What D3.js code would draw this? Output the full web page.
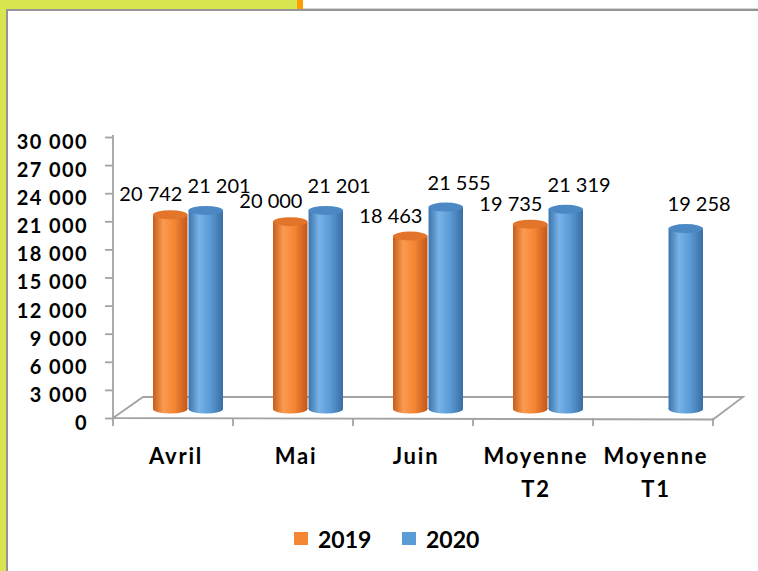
<!DOCTYPE html>
<meta charset="utf-8">
<html>
  <head>
    <style>
      body { margin: 0; background: #ffffff; }
      #chart text { font-family: Lato, "Open Sans", sans-serif; fill: #000; }
    </style>
    <script src="https://d3js.org/d3.v7.min.js"></script>
  </head>
  <body>
<div id="chart"></div>

<script>

// data
var categories = ["Avril", "Mai", "Juin", "Moyenne\nT2", "Moyenne\nT1"];
var seriesNames = ["2019", "2020"];
var values2019 = [20742, 20000, 18463, 19735, null];
var values2020 = [21201, 21201, 21555, 21319, 19258];
var yTicks = [0, 3000, 6000, 9000, 12000, 15000, 18000, 21000, 24000, 27000, 30000];

var W = 758, H = 571;
var depth = {x: 30, y: -21};      // floor depth of the 3d plot
var barShift = {x: 15, y: -9};    // bars stand in the middle of the floor

var svg = d3.select("#chart")
  .append("svg")
  .attr("width", W)
  .attr("height", H);

// ---- slide frame ----
svg.append("rect").attr("x", 0).attr("y", 0).attr("width", 6).attr("height", H).attr("fill", "#d9e54e");
svg.append("rect").attr("x", 0).attr("y", 0).attr("width", 297).attr("height", 9).attr("fill", "#d9e54e");
svg.append("rect").attr("x", 297).attr("y", 0).attr("width", 6).attr("height", 9).attr("fill", "#ff9c00");
svg.append("line").attr("x1", 303).attr("x2", W).attr("y1", 8.5).attr("y2", 8.5).attr("stroke", "#d8d8d8").attr("stroke-width", 1);
svg.append("line").attr("x1", 6).attr("x2", W).attr("y1", 10).attr("y2", 10).attr("stroke", "#959595").attr("stroke-width", 2);
svg.append("line").attr("x1", 7).attr("x2", 7).attr("y1", 9).attr("y2", H).attr("stroke", "#959595").attr("stroke-width", 2);

// ---- gradients for cylinders ----
var defs = svg.append("defs");
var palette = {
  "2019": {stops: ["#c65d19", "#fb9a50", "#f58634", "#c2581a"], top: "#e2752a"},
  "2020": {stops: ["#3c74ac", "#78b2e8", "#5b9bd6", "#3a6ea2"], top: "#4c88c3"}
};
seriesNames.forEach(function(s) {
  var g = defs.append("linearGradient").attr("id", "grad" + s)
    .attr("x1", "0%").attr("x2", "100%").attr("y1", "0%").attr("y2", "0%");
  [0, 30, 62, 100].forEach(function(o, i) {
    g.append("stop").attr("offset", o + "%").attr("stop-color", palette[s].stops[i]);
  });
});

// ---- scales ----
var x = d3.scaleBand()
  .domain(categories)
  .range([113, 713]);

var x1 = d3.scaleBand()
  .domain(seriesNames)
  .range([25, 95])
  .paddingInner(0.03);

var y = d3.scaleLinear()
  .domain([0, 30000])
  .range([418, 137]);

var fmt = d3.formatLocale({decimal: ",", thousands: " ", grouping: [3], currency: ["", ""]}).format(",");

// ---- floor ----
var x0 = x.range()[0], xN = x.range()[1], yF = y(0);
var floor = svg.append("g").attr("fill", "none").attr("stroke", "#a3a3a3").attr("stroke-width", 1.8);
floor.append("path")
  .attr("d", d3.line()([[x0, yF], [x0 + depth.x, yF + depth.y], [xN + depth.x, yF + depth.y], [xN, yF + 1.5], [x0, yF]]));

// category ticks on the floor front edge
svg.append("g").selectAll("line")
  .data(d3.range(categories.length + 1))
  .enter().append("line")
  .attr("x1", function(i) { return x0 + i * x.step(); })
  .attr("x2", function(i) { return x0 + i * x.step(); })
  .attr("y1", yF)
  .attr("y2", yF + 8)
  .attr("stroke", "#a3a3a3")
  .attr("stroke-width", 1.8);

// ---- y axis ----
var yAxis = svg.append("g")
  .attr("transform", "translate(" + x0 + ",0)")
  .call(d3.axisLeft(y).tickValues(yTicks).tickSize(8).tickPadding(17).tickFormat(fmt));
yAxis.select(".domain").attr("stroke", "#a3a3a3").attr("stroke-width", 1.8).attr("d", "M0," + (y(30000) - 2) + "V" + yF);
yAxis.selectAll(".tick line").attr("stroke", "#a3a3a3").attr("stroke-width", 1.8);
yAxis.selectAll(".tick text")
  .attr("dy", "0.72em")
  .attr("y", -3)
  .style("font-size", "20px")
  .style("font-weight", "bold")
  .style("letter-spacing", "1.4px");

// ---- bars as cylinders ----
var rows = [];
categories.forEach(function(c, i) {
  [values2019[i], values2020[i]].forEach(function(v, j) {
    if (v != null) rows.push({cat: c, series: seriesNames[j], value: v});
  });
});

var ry = 4.5;
var bars = svg.append("g").selectAll("g")
  .data(rows)
  .enter().append("g")
  .attr("transform", function(d) { return "translate(" + (x(d.cat) + x1(d.series) + barShift.x) + "," + barShift.y + ")"; });

bars.append("ellipse")
  .attr("cx", x1.bandwidth() / 2)
  .attr("cy", yF)
  .attr("rx", x1.bandwidth() / 2)
  .attr("ry", ry)
  .attr("fill", function(d) { return "url(#grad" + d.series + ")"; });
bars.append("rect")
  .attr("x", 0)
  .attr("y", function(d) { return y(d.value); })
  .attr("width", x1.bandwidth())
  .attr("height", function(d) { return yF - y(d.value); })
  .attr("fill", function(d) { return "url(#grad" + d.series + ")"; });
bars.append("ellipse")
  .attr("cx", x1.bandwidth() / 2)
  .attr("cy", function(d) { return y(d.value); })
  .attr("rx", x1.bandwidth() / 2)
  .attr("ry", ry)
  .attr("fill", function(d) { return palette[d.series].top; });

// value labels
bars.append("text")
  .attr("x", function(d) { return d.series === "2019" ? x1.bandwidth() - 5 : -1; })
  .attr("y", function(d) { return y(d.value) - ry - (d.series === "2019" ? 9 : 13); })
  .attr("text-anchor", function(d) { return d.series === "2019" ? "end" : "start"; })
  .style("font-size", "20px")
  .text(function(d) { return fmt(d.value); });

// ---- category labels ----
var catLabels = svg.append("g").selectAll("text")
  .data(categories)
  .enter().append("text")
  .attr("x", function(d) { return x(d) + x.bandwidth() / 2 + 3; })
  .attr("y", 464)
  .attr("text-anchor", "middle")
  .style("font-size", "22px")
  .style("font-weight", "bold")
  .style("letter-spacing", "1.8px");
catLabels.selectAll("tspan")
  .data(function(d) { return d.split("\n"); })
  .enter().append("tspan")
  .attr("x", function() { return d3.select(this.parentNode).attr("x"); })
  .attr("dy", function(d, i) { return i === 0 ? 0 : 33; })
  .text(function(d) { return d; });

// ---- legend ----
var legendX = d3.scaleOrdinal().domain(seriesNames).range([294, 402]);
var legend = svg.append("g").selectAll("g")
  .data(seriesNames)
  .enter().append("g")
  .attr("transform", function(d) { return "translate(" + legendX(d) + ",532)"; });
legend.append("rect")
  .attr("width", 14)
  .attr("height", 13)
  .attr("fill", function(d) { return palette[d].stops[2]; });
legend.append("text")
  .attr("x", 24)
  .attr("y", 16)
  .style("font-size", "23px")
  .style("font-weight", "bold")
  .text(function(d) { return d; });

</script>
</body>
</html>
